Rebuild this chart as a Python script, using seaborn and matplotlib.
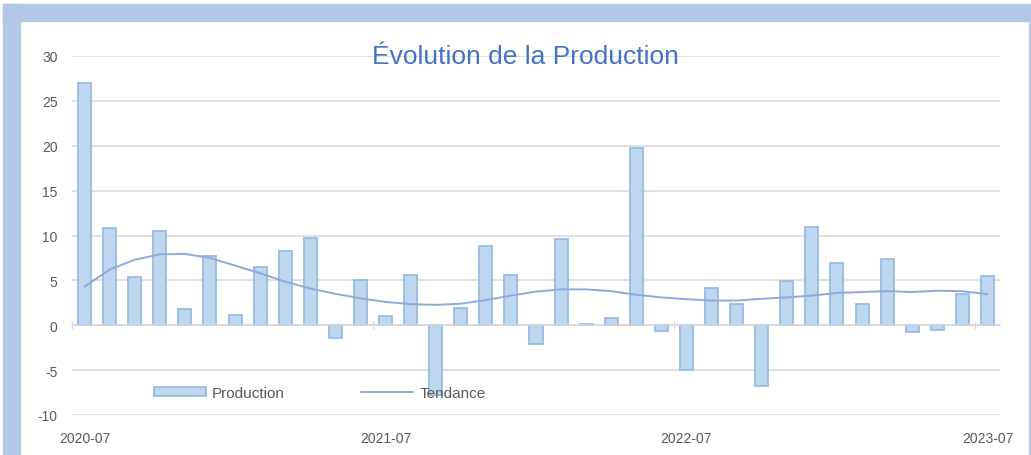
"""
Evolution de la Production - bar chart mensuel + courbe de tendance
"""

import numpy as np
import pandas as pd
import matplotlib
matplotlib.use("Agg")
import matplotlib.pyplot as plt
from matplotlib.patches import Rectangle
import seaborn as sns

# ---------------------------------------------------------
# DATA
# ---------------------------------------------------------
months = [
    "2020-07", "2020-08", "2020-09", "2020-10", "2020-11", "2020-12",
    "2021-01", "2021-02", "2021-03", "2021-04", "2021-05", "2021-06",
    "2021-07", "2021-08", "2021-09", "2021-10", "2021-11", "2021-12",
    "2022-01", "2022-02", "2022-03", "2022-04", "2022-05", "2022-06",
    "2022-07", "2022-08", "2022-09", "2022-10", "2022-11", "2022-12",
    "2023-01", "2023-02", "2023-03", "2023-04", "2023-05", "2023-06",
    "2023-07",
]
production = [
    27.0, 10.8, 5.4, 10.5, 1.8, 7.7,
    1.1, 6.5, 8.3, 9.7, -1.4, 5.0,
    1.0, 5.6, -7.8, 1.9, 8.8, 5.6,
    -2.1, 9.6, 0.1, 0.8, 19.7, -0.6,
    -5.0, 4.1, 2.4, -6.8, 4.9, 10.9,
    6.9, 2.4, 7.4, -0.7, -0.55, 3.5,
    5.5,
]
tendance = [
    4.3, 6.2, 7.3, 7.9, 7.95, 7.5,
    6.65, 5.8, 4.85, 4.1, 3.5, 3.0,
    2.6, 2.35, 2.27, 2.4, 2.8, 3.3,
    3.75, 4.0, 4.0, 3.8, 3.4, 3.1,
    2.9, 2.75, 2.75, 2.95, 3.1, 3.3,
    3.6, 3.7, 3.8, 3.7, 3.85, 3.8,
    3.45,
]
label_months = ["2020-07", "2021-07", "2022-07", "2023-07"]

df = pd.DataFrame({"mois": months, "Production": production, "Tendance": tendance})
df["pos"] = np.arange(len(df))

# ---------------------------------------------------------
# STYLE
# ---------------------------------------------------------
sns.set_theme(style="white")
plt.rcParams["font.family"] = ["Liberation Sans", "DejaVu Sans"]
plt.rcParams["axes.unicode_minus"] = False

bar_fill = "#bdd7ee"
bar_edge = "#98bbe5"
line_col = "#8eaadb"
grid_col = "#d9d9d9"
text_col = "#595959"
frame_col = "#b4c7e7"

W, H = 1031, 456
fig = plt.figure(figsize=(W / 100, H / 100), dpi=100)
ax = fig.add_axes([72 / W, 1 - 416 / H, (1000 - 72) / W, (416 - 57) / H])

# cadre bleu autour du graphique
fig.patches.append(Rectangle((3 / W, 1 - 22 / H), 1 - 3 / W, 17 / H,
                             transform=fig.transFigure, color=frame_col, zorder=0))
fig.patches.append(Rectangle((3 / W, 0), 17 / W, 1 - 5 / H,
                             transform=fig.transFigure, color=frame_col, zorder=0))
fig.patches.append(Rectangle((1028.5 / W, 0), 1.5 / W, 1 - 5 / H,
                             transform=fig.transFigure, color=frame_col, zorder=0))

# ---------------------------------------------------------
# PLOT
# ---------------------------------------------------------
sns.barplot(data=df, x="pos", y="Production", color=bar_fill, saturation=1,
            width=0.52, edgecolor=bar_edge, linewidth=1.3, ax=ax,
            label="Production", zorder=2)
sns.lineplot(data=df, x="pos", y="Tendance", color=line_col, linewidth=1.4,
             ax=ax, label="Tendance", zorder=3)

ax.set_xlim(-0.5, len(df) - 0.5)
ax.set_ylim(-10, 30)
ax.set_yticks(np.arange(-10, 31, 5))
ax.yaxis.grid(True, color=grid_col, linewidth=1.1)
ax.set_axisbelow(True)
ax.tick_params(axis="y", length=0, pad=10.5, labelsize=10, labelcolor=text_col)

for s in ["top", "right", "left"]:
    ax.spines[s].set_visible(False)
ax.spines["bottom"].set_position(("data", 0))
ax.spines["bottom"].set_color(grid_col)
ax.spines["bottom"].set_linewidth(1.1)

# petits traits tous les 12 mois sur l'axe zero, labels en bas
label_pos = [months.index(m) for m in label_months]
ax.set_xticks([p - 0.5 for p in label_pos])
ax.set_xticklabels([])
ax.set_xticks(label_pos, minor=True)
ax.set_xticklabels(label_months, minor=True)
ax.tick_params(axis="x", which="major", direction="inout", length=6,
               width=1, color=grid_col, bottom=True)
ax.tick_params(axis="x", which="minor", length=0, pad=76, labelsize=10,
               labelcolor=text_col)
ax.set_xlabel("")
ax.set_ylabel("")

fig.text(525 / W, 1 - 57 / H, "Évolution de la Production", color="#4472c4",
         fontsize=19, ha="center", va="center")

# legende : Production d'abord, puis Tendance
handles, labels = ax.get_legend_handles_labels()
order = [labels.index("Production"), labels.index("Tendance")]
leg = ax.legend([handles[i] for i in order], [labels[i] for i in order],
                ncol=2, frameon=False, loc="center left",
                bbox_to_anchor=(154 / W, 1 - 394 / H),
                bbox_transform=fig.transFigure, borderpad=0, borderaxespad=0,
                fontsize=11, handlelength=3.4, handleheight=0.55,
                handletextpad=0.4, columnspacing=5.0)
for t in leg.get_texts():
    t.set_color(text_col)
leg.set_zorder(5)

fig.savefig("out.png", dpi=100)
